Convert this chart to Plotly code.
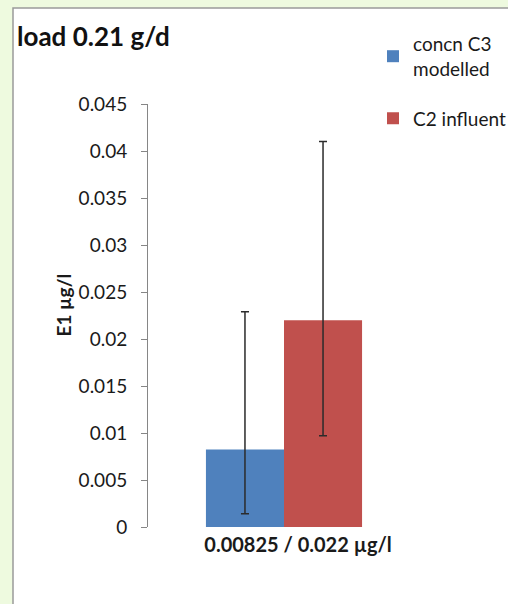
import plotly.graph_objects as go

# ---- data ----
categories = ["0.00825 / 0.022 µg/l"]
series_names = ["concn C3<br>modelled", "C2 influent"]
modelled_vals = [0.00825]
influent_vals = [0.022]
modelled_err_plus = [0.01465]
modelled_err_minus = [0.00685]
influent_err_plus = [0.019]
influent_err_minus = [0.0123]
y_tickvals = [0, 0.005, 0.01, 0.015, 0.02, 0.025, 0.03, 0.035, 0.04, 0.045]
y_ticktext = ["0", "0.005", "0.01", "0.015", "0.02", "0.025", "0.03", "0.035", "0.04", "0.045"]

FONT = "Lato"
W, H = 508, 604
L, R, T, B = 148, 88, 104, 77
pw, ph = W - L - R, H - T - B


def px2paper_x(px):
    return (px - L) / pw


def px2paper_y(py):
    return (H - B - py) / ph


err_style = dict(type="data", symmetric=False, color="#2b2b2b", thickness=1.5, width=4)

fig = go.Figure()
fig.add_trace(go.Bar(
    x=categories, y=modelled_vals, name=series_names[0],
    marker=dict(color="#4f81bd", line=dict(width=0)),
    error_y=dict(array=modelled_err_plus, arrayminus=modelled_err_minus, **err_style),
    legendgroup="a",
))
fig.add_trace(go.Bar(
    x=categories, y=influent_vals, name=series_names[1],
    marker=dict(color="#c0504d", line=dict(width=0)),
    error_y=dict(array=influent_err_plus, arrayminus=influent_err_minus, **err_style),
    legendgroup="b",
))

fig.update_layout(
    width=W, height=H,
    margin=dict(l=L, r=R, t=T, b=B, autoexpand=False),
    paper_bgcolor="#eefadf",
    plot_bgcolor="rgba(0,0,0,0)",
    barmode="group", bargap=0.426, bargroupgap=0,
    font=dict(family=FONT, size=19, color="#1a1a1a"),
    title=dict(text="<b>load 0.21 g/d</b>", font=dict(family=FONT, size=26, color="#111111"),
               x=17 / W, xanchor="left", xref="container",
               y=1 - 37 / H, yanchor="middle", yref="container"),
    showlegend=True,
    legend=dict(x=px2paper_x(373), xanchor="left", y=px2paper_y(25), yanchor="top",
                font=dict(family=FONT, size=19, color="#1a1a1a"),
                bgcolor="rgba(0,0,0,0)", tracegroupgap=22, itemclick=False),
    shapes=[dict(type="rect", xref="paper", yref="paper", layer="below",
                 x0=px2paper_x(13), x1=px2paper_x(530), y0=px2paper_y(630), y1=px2paper_y(8),
                 fillcolor="white", line=dict(color="#9a9a9a", width=1.5))],
    annotations=[dict(text="<b>E1 µg/l</b>", textangle=-90, xref="paper", yref="paper",
                      x=px2paper_x(49), y=px2paper_y(305), showarrow=False,
                      font=dict(family=FONT, size=19, color="#1a1a1a"))],
)

fig.update_xaxes(showline=False, ticks="", showgrid=False, zeroline=False,
                 tickfont=dict(family=FONT, size=20, color="#1a1a1a"),
                 tickprefix="<b>", ticksuffix="</b>", ticklabelshift=14, ticklabelstandoff=4)
fig.update_yaxes(range=[0, 0.045], tickvals=y_tickvals, ticktext=y_ticktext,
                 showline=True, linecolor="#868686", linewidth=1,
                 ticks="outside", ticklen=6, tickcolor="#868686", tickwidth=1,
                 showgrid=False, zeroline=False, ticklabelstandoff=10,
                 tickfont=dict(family=FONT, size=19, color="#1a1a1a"))

fig.write_html(
    "out.html",
    config={"displayModeBar": False},
    post_script="document.body.style.margin='0';document.body.style.overflow='hidden';"
                "document.documentElement.style.overflow='hidden';",
)
